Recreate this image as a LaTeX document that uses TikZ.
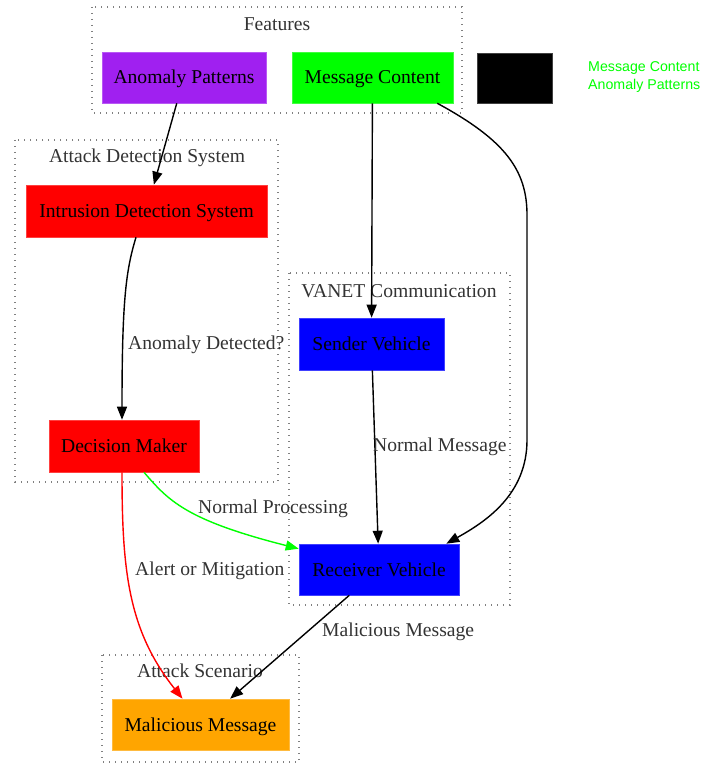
\documentclass[tikz,border=0pt]{standalone}
\usepackage{fontspec}
\setmainfont{Liberation Serif}
\newfontfamily\legendfont{Liberation Sans}
\usetikzlibrary{arrows.meta}
\definecolor{gvpurple}{HTML}{A020F0}
\definecolor{gvgreen}{HTML}{00FF00}
\definecolor{gvred}{HTML}{FF0000}
\definecolor{gvblue}{HTML}{0000FF}
\definecolor{gvorange}{HTML}{FFA500}
\definecolor{lbl}{HTML}{333333}
\begin{document}
\begin{tikzpicture}[x=1pt,y=-1pt,
  box/.style={fill=#1, draw=#1!75!white, line width=0.6pt, inner sep=0pt, font=\fontsize{19.6}{22}\selectfont, text=black, text height=17pt, text depth=4pt},
  cluster/.style={draw=gray, line width=1.4pt, dash pattern=on 1.4pt off 4.6pt},
  clabel/.style={font=\fontsize{19.6}{22}\selectfont, text=lbl, inner sep=0pt},
  elabel/.style={font=\fontsize{19.6}{22}\selectfont, text=lbl, inner sep=0pt, anchor=west},
  arr/.style={-{Triangle[length=13pt,width=10pt,fill=#1]}, line width=1.4pt, draw=#1},
  arr/.default=black]
\useasboundingbox (0,0) rectangle (702,767);
% clusters
\draw[cluster] (92,7) rectangle (462,113);
\draw[cluster] (15,140) rectangle (278,482);
\draw[cluster] (289,273) rectangle (510,605);
\draw[cluster] (102,655) rectangle (299,762);
\node[clabel] (lfeat) at (277,24) {Features};
\node[clabel] (lads) at (147,158) {Attack Detection System};
\node[clabel] (lvan) at (399,291) {VANET Communication};
\node[clabel] (lsc) at (200,671) {Attack Scenario};
% nodes
\node[box=gvpurple, minimum width=164pt, minimum height=51pt] (ap) at (184,77.5) {Anomaly Patterns};
\node[box=gvgreen, minimum width=161pt, minimum height=51pt] (mc) at (372.5,77.5) {Message Content};
\node[box=black, minimum width=75pt, minimum height=50pt] (blk) at (514.5,78) {};
\node[font=\legendfont\fontsize{14.2}{17.5}\selectfont, text=gvgreen, align=left, anchor=west, inner sep=0pt] (leg) at (588,77) {Message Content\\Anomaly Patterns};
\node[box=gvred, minimum width=241pt, minimum height=52pt] (ids) at (146.5,211) {Intrusion Detection System};
\node[box=gvred, minimum width=150pt, minimum height=52pt] (dm) at (124,446) {Decision Maker};
\node[box=gvblue, minimum width=145pt, minimum height=52pt] (sv) at (371.5,344) {Sender Vehicle};
\node[box=gvblue, minimum width=160pt, minimum height=51pt] (rv) at (379,569.5) {Receiver Vehicle};
\node[box=gvorange, minimum width=177pt, minimum height=51pt] (mm) at (200.5,724.5) {Malicious Message};
% edges
\draw[arr] (ap) -- (ids);
\draw[arr] ([xshift=-10.5pt]ids.south) .. controls (126,270) and (122,300) .. ([xshift=-2pt]dm.north);
\draw[arr] (mc) -- (sv);
\draw[arr] ([xshift=-16pt]mc.south east) .. controls (505,140) and (527,170) .. (527,215) -- (527,440) .. controls (527,495) and (485,522) .. ([xshift=-13pt]rv.north east);
\draw[arr] (sv) -- (rv);
\draw[arr=gvgreen] ([xshift=20pt]dm.south) .. controls (168,500) and (185,520) .. ([yshift=-5pt]rv.north west);
\draw[arr=gvred] ([xshift=-2pt]dm.south) .. controls (122,570) and (128,630) .. ([xshift=-18pt]mm.north);
\draw[arr] (rv) -- (mm);
% edge labels
\node[elabel] (l1) at (128,345) {Anomaly Detected?};
\node[elabel] (l2) at (373,447) {Normal Message};
\node[elabel] (l3) at (198,509) {Normal Processing};
\node[elabel] (l4) at (135,571) {Alert or Mitigation};
\node[elabel] (l5) at (322,632) {Malicious Message};
\end{tikzpicture}
\end{document}
